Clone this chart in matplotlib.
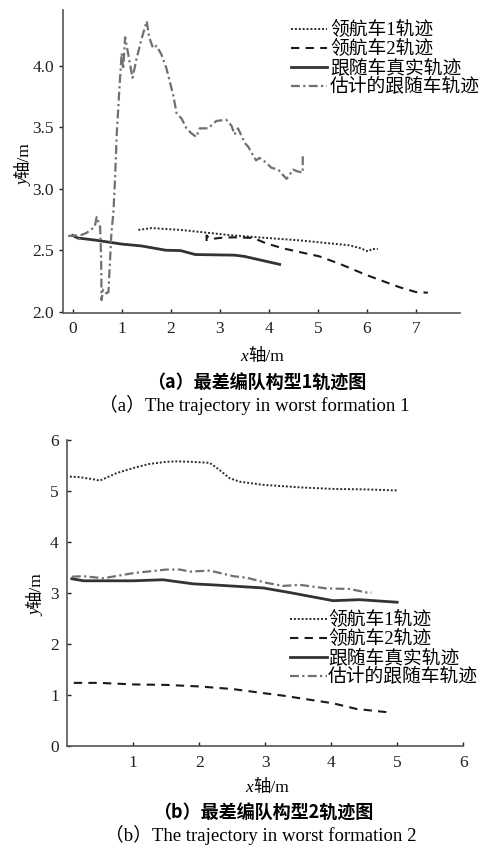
import matplotlib
matplotlib.use("Agg")
import matplotlib.pyplot as plt

plt.rcParams['font.family'] = ['Liberation Serif', 'Noto Sans CJK SC', 'DejaVu Sans']

# ---------------- data: chart (a) ----------------
a_l1_x = [1.34, 1.61, 2.2, 3.27, 4.63, 5.64, 5.88, 6.02, 6.10, 6.22]
a_l1_y = [2.665, 2.68, 2.665, 2.62, 2.58, 2.54, 2.515, 2.49, 2.51, 2.51]

a_l2_x = [2.73, 2.73, 2.80, 3.0, 3.27, 3.68, 3.95, 4.29, 5.03, 5.44, 5.98, 6.66, 7.0, 7.24]
a_l2_y = [2.575, 2.62, 2.59, 2.60, 2.605, 2.60, 2.555, 2.515, 2.45, 2.39, 2.30, 2.20, 2.16, 2.155]

a_fr_x = [0.0, 0.1, 0.5, 1.0, 1.4, 1.9, 2.2, 2.5, 3.3, 3.5, 4.22]
a_fr_y = [2.62, 2.60, 2.58, 2.55, 2.535, 2.50, 2.497, 2.465, 2.46, 2.45, 2.385]

a_fe_x = [-0.09, 0.10, 0.13, 0.15, 0.28, 0.45, 0.49, 0.56, 0.58, 0.59, 0.62, 0.69, 0.73,
          0.79, 0.83, 0.86, 0.90, 0.96, 1.00, 1.03, 1.07, 1.13, 1.22, 1.30, 1.40, 1.51,
          1.56, 1.64, 1.71, 1.81, 1.91, 1.98, 2.05, 2.12, 2.22, 2.32, 2.42, 2.52, 2.59,
          2.76, 2.93, 3.13, 3.24, 3.30, 3.37, 3.51, 3.58, 3.68, 3.74, 3.81, 3.95, 4.05,
          4.19, 4.29, 4.36, 4.42, 4.49, 4.59, 4.69, 4.69]
a_fe_y = [2.616, 2.62, 2.59, 2.62, 2.64, 2.69, 2.77, 2.69, 2.45, 2.095, 2.18, 2.15, 2.16,
          2.64, 2.80, 3.04, 3.45, 3.86, 4.10, 3.97, 4.23, 4.10, 3.90, 4.05, 4.21, 4.36,
          4.23, 4.14, 4.16, 4.09, 3.98, 3.87, 3.76, 3.61, 3.57, 3.49, 3.45, 3.42, 3.49,
          3.49, 3.55, 3.56, 3.51, 3.44, 3.49, 3.37, 3.34, 3.27, 3.23, 3.25, 3.21, 3.17,
          3.155, 3.11, 3.08, 3.11, 3.155, 3.14, 3.13, 3.275]

# ---------------- data: chart (b) ----------------
b_l1_x = [0.04, 0.19, 0.44, 0.49, 0.75, 1.0, 1.25, 1.5, 1.66, 1.91, 2.16, 2.31, 2.46, 2.62,
          2.97, 3.53, 4.03, 4.54, 5.0]
b_l1_y = [5.28, 5.27, 5.22, 5.20, 5.35, 5.45, 5.53, 5.57, 5.58, 5.57, 5.55, 5.41, 5.25, 5.18,
          5.12, 5.07, 5.04, 5.03, 5.01]

b_l2_x = [0.1, 0.49, 1.0, 1.5, 2.0, 2.5, 2.97, 3.27, 4.03, 4.38, 4.89]
b_l2_y = [1.24, 1.24, 1.21, 1.20, 1.17, 1.12, 1.04, 0.99, 0.84, 0.73, 0.66]

b_fr_x = [0.07, 0.25, 1.0, 1.45, 1.91, 2.21, 2.97, 3.37, 4.03, 4.43, 5.0]
b_fr_y = [3.28, 3.24, 3.24, 3.26, 3.18, 3.16, 3.10, 3.01, 2.85, 2.87, 2.82]

b_fe_x = [0.07, 0.24, 0.55, 1.0, 1.5, 1.71, 1.86, 2.16, 2.52, 2.72, 3.02, 3.27, 3.53, 3.93,
          4.28, 4.54, 4.61]
b_fe_y = [3.32, 3.33, 3.29, 3.39, 3.46, 3.46, 3.42, 3.44, 3.33, 3.30, 3.20, 3.14, 3.16, 3.09,
          3.08, 3.01, 3.01]

labels = ['领航车1轨迹', '领航车2轨迹', '跟随车真实轨迹', '估计的跟随车轨迹']
a_xticks = [0, 1, 2, 3, 4, 5, 6, 7]
a_yticks = [2.0, 2.5, 3.0, 3.5, 4.0]
b_xticks = [1, 2, 3, 4, 5, 6]
b_yticks = [0, 1, 2, 3, 4, 5, 6]

W, H = 487, 846
fig = plt.figure(figsize=(W / 100, H / 100), dpi=100)

styles = [dict(color='#2a2a2a', ls=(0, (1, 1)), lw=1.4),
          dict(color='#1a1a1a', ls=(0, (4, 3)), lw=1.5),
          dict(color='#333333', ls='-', lw=2.0),
          dict(color='#707070', ls=(0, (4, 1.5, 1, 1.5)), lw=1.6)]

def style_axes(ax):
    for s in ['top', 'right']:
        ax.spines[s].set_visible(False)
    for s in ['left', 'bottom']:
        ax.spines[s].set_color('#555555')
        ax.spines[s].set_linewidth(1.2)
    ax.tick_params(labelsize=12.5, colors='#222222', length=3, width=1)

def axis_label(ax, xpx, ypx, var, vertical=False, fs=12.5):
    if not vertical:
        t = fig.text(xpx / W, 1 - ypx / H, '轴/m', ha='center', va='center', fontsize=fs)
        ax.annotate(var, xy=(0, 0), xycoords=t, ha='right', va='bottom', fontsize=fs,
                    fontstyle='italic', family='Liberation Serif', annotation_clip=False)
    else:
        t = fig.text(xpx / W, 1 - ypx / H, '轴/m', ha='center', va='center', fontsize=fs,
                     rotation=90)
        ax.annotate(var, xy=(1, 0), xycoords=t, ha='right', va='top', fontsize=fs,
                    rotation=90, fontstyle='italic', family='Liberation Serif',
                    annotation_clip=False)

# ---- chart (a)
ax1 = fig.add_axes([0.129, 0.630, 0.816, 0.358])
series_a = [(a_l1_x, a_l1_y), (a_l2_x, a_l2_y), (a_fr_x, a_fr_y), (a_fe_x, a_fe_y)]
for (x, y), st, lb in zip(series_a, styles, labels):
    ax1.plot(x, y, label=lb, **st)
ax1.set_xlim(-0.2, 7.9)
ax1.set_ylim(1.99, 4.45)
ax1.set_xticks(a_xticks)
ax1.set_yticks(a_yticks)
ax1.set_yticklabels([f'{v:.1f}' for v in a_yticks])
style_axes(ax1)
ax1.tick_params(axis='x', direction='in', pad=6)
ax1.tick_params(axis='y', direction='out')
axis_label(ax1, 266, 357, 'x')
axis_label(ax1, 24, 160, 'y', vertical=True)
ax1.legend(loc='upper left', bbox_to_anchor=(0.545, 1.0), frameon=False, fontsize=13.5,
           handlelength=1.95, handletextpad=0.15, labelspacing=0.05, borderaxespad=0.2)
fig.text(0.527, 1 - 383 / 846, '（a）最差编队构型1轨迹图', ha='center', va='center',
         fontsize=13, fontweight='bold', family=['Noto Sans CJK SC'])
fig.text(0.522, 1 - 405 / 846, '（a）The trajectory in worst formation 1', ha='center',
         va='center', fontsize=13.5)

# ---- chart (b)
ax2 = fig.add_axes([0.138, 0.118, 0.813, 0.362])
series_b = [(b_l1_x, b_l1_y), (b_l2_x, b_l2_y), (b_fr_x, b_fr_y), (b_fe_x, b_fe_y)]
for (x, y), st, lb in zip(series_b, styles, labels):
    ax2.plot(x, y, label=lb, **st)
ax2.set_xlim(0, 6)
ax2.set_ylim(0, 6)
ax2.set_xticks(b_xticks)
ax2.set_yticks(b_yticks)
style_axes(ax2)
ax2.tick_params(axis='both', direction='in', pad=6)
axis_label(ax2, 271, 788, 'x')
axis_label(ax2, 36, 590, 'y', vertical=True)
ax2.legend(loc='upper left', bbox_to_anchor=(0.545, 0.465), frameon=False, fontsize=13.5,
           handlelength=1.95, handletextpad=0.05, labelspacing=0.05, borderaxespad=0.0)
fig.text(0.54, 1 - 813 / 846, '（b）最差编队构型2轨迹图', ha='center', va='center',
         fontsize=13, fontweight='bold', family=['Noto Sans CJK SC'])
fig.text(0.535, 1 - 835 / 846, '（b）The trajectory in worst formation 2', ha='center',
         va='center', fontsize=13.5)

fig.savefig('out.png', dpi=100)
